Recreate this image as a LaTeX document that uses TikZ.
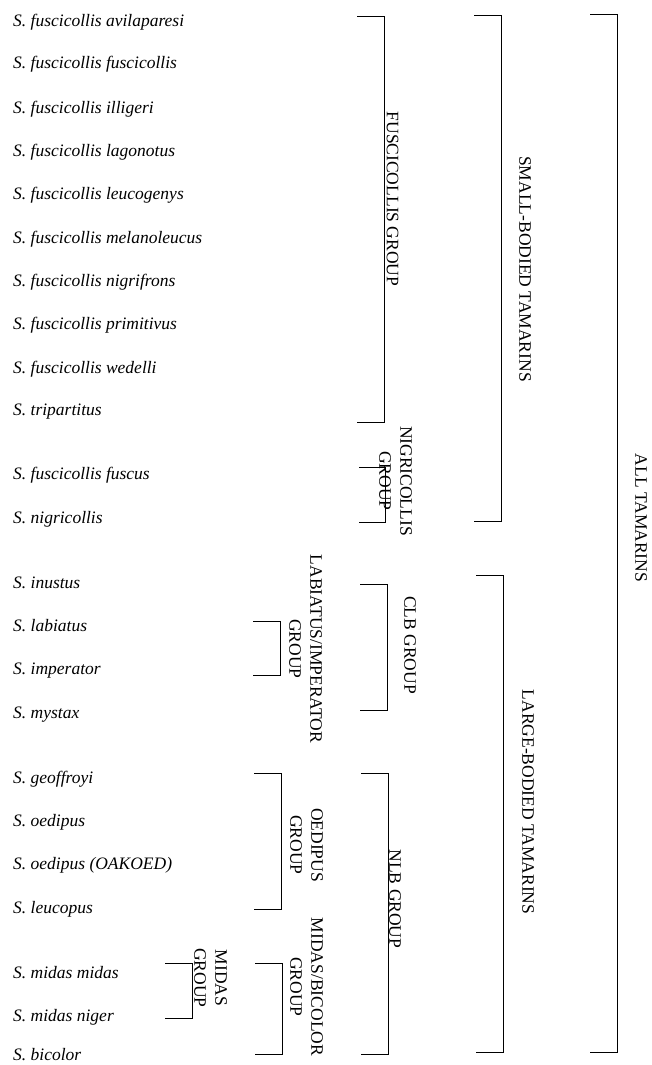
\documentclass[tikz,border=0pt]{standalone}
\usepackage{fontspec}
\setmainfont{Liberation Serif}
\begin{document}
\begin{tikzpicture}[x=1pt, y=-1pt,
  taxon/.style={anchor=base west, inner sep=0pt, font=\fontsize{17.5}{21}\selectfont\itshape},
  clade/.style={rotate=-90, inner sep=0pt, align=center, font=\fontsize{17.5}{21}\selectfont},
  bracket/.style={draw=black, line width=1pt}
]
  \useasboundingbox (0,0) rectangle (651,1065);

  \node[taxon] (avilaparesi) at (13,27) {S. fuscicollis avilaparesi};
  \node[taxon] (fuscicollis) at (13,69) {S. fuscicollis fuscicollis};
  \node[taxon] (illigeri) at (13,113) {S. fuscicollis illigeri};
  \node[taxon] (lagonotus) at (13,156) {S. fuscicollis lagonotus};
  \node[taxon] (leucogenys) at (13,199) {S. fuscicollis leucogenys};
  \node[taxon] (melanoleucus) at (13,243) {S. fuscicollis melanoleucus};
  \node[taxon] (nigrifrons) at (13,286) {S. fuscicollis nigrifrons};
  \node[taxon] (primitivus) at (13,329) {S. fuscicollis primitivus};
  \node[taxon] (wedelli) at (13,373) {S. fuscicollis wedelli};
  \node[taxon] (tripartitus) at (13,415) {S. tripartitus};
  \node[taxon] (fuscus) at (13,479) {S. fuscicollis fuscus};
  \node[taxon] (nigricollis) at (13,523) {S. nigricollis};
  \node[taxon] (inustus) at (13,588) {S. inustus};
  \node[taxon] (labiatus) at (13,631) {S. labiatus};
  \node[taxon] (imperator) at (13,674) {S. imperator};
  \node[taxon] (mystax) at (13,718) {S. mystax};
  \node[taxon] (geoffroyi) at (13,783) {S. geoffroyi};
  \node[taxon] (oedipus) at (13,826) {S. oedipus};
  \node[taxon] (oakoed) at (13,869) {S. oedipus (OAKOED)};
  \node[taxon] (leucopus) at (13,913) {S. leucopus};
  \node[taxon] (midasmidas) at (13,978) {S. midas midas};
  \node[taxon] (midasniger) at (13,1021) {S. midas niger};
  \node[taxon] (bicolor) at (13,1060) {S. bicolor};

  \draw[bracket] (357,17) -| (384,422) -- (357,422);
  \draw[bracket] (359,467) -| (385,522) -- (359,522);
  \draw[bracket] (474,16) -| (501,521) -- (474,521);
  \draw[bracket] (590,15) -| (617,1052) -- (590,1052);
  \draw[bracket] (360,584) -| (387,710) -- (360,710);
  \draw[bracket] (476,575) -| (503,1052) -- (476,1052);
  \draw[bracket] (361,773) -| (388,1054) -- (361,1054);
  \draw[bracket] (253,621) -| (280,675) -- (253,675);
  \draw[bracket] (254,773) -| (281,909) -- (254,909);
  \draw[bracket] (255,963) -| (282,1054) -- (255,1054);
  \draw[bracket] (165,963) -| (192,1018) -- (165,1018);

  \node[clade] (fuscgroup) at (392.5,199) {FUSCICOLLIS GROUP};
  \node[clade] (nigrgroup) at (395.5,481) {NIGRICOLLIS\\GROUP};
  \node[clade] (small) at (525,269) {SMALL-BODIED TAMARINS};
  \node[clade] (all) at (641,518) {ALL TAMARINS};
  \node[clade] (clbgroup) at (410,645) {CLB GROUP};
  \node[clade] (large) at (528,802) {LARGE-BODIED TAMARINS};
  \node[clade] (nlbgroup) at (395,899) {NLB GROUP};
  \node[clade] (labgroup) at (305.5,649) {LABIATUS/IMPERATOR\\GROUP};
  \node[clade] (oedgroup) at (306.5,845) {OEDIPUS\\GROUP};
  \node[clade] (mbgroup) at (306.5,987) {MIDAS/BICOLOR\\GROUP};
  \node[clade] (midgroup) at (210.5,978) {MIDAS\\GROUP};
\end{tikzpicture}
\end{document}
